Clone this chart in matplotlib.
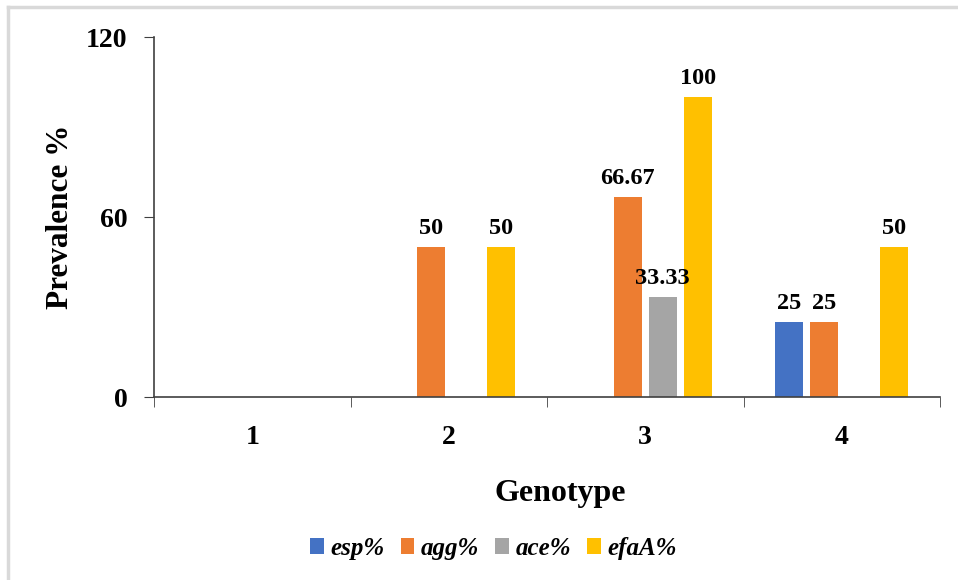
import matplotlib.pyplot as plt
import numpy as np
from matplotlib.lines import Line2D

genotypes = ["1", "2", "3", "4"]
series_names = ["esp%", "agg%", "ace%", "efaA%"]
esp = [0, 0, 0, 25]
agg = [0, 50, 66.67, 25]
ace = [0, 0, 33.33, 0]
efaA = [0, 50, 100, 50]
y_ticks = [0, 60, 120]

colors = ["#4472C4", "#ED7D31", "#A5A5A5", "#FFC000"]
values = [esp, agg, ace, efaA]

plt.rcParams["font.family"] = ["Liberation Serif", "DejaVu Serif"]
fig = plt.figure(figsize=(9.58, 5.8), dpi=100)
ax = fig.add_axes([0.1608, 0.3155, 0.8204, 0.6207])

x = np.arange(len(genotypes))
slot = 0.178
width = 0.1425
for i, (name, vals) in enumerate(zip(series_names, values)):
    pos = x + (i - 1.5) * slot
    ax.bar(pos, vals, width, color=colors[i], label=name, zorder=2)
    for p, v in zip(pos, vals):
        if v > 0:
            ax.annotate(f"{v:g}", (p, v), xytext=(0, 6), textcoords="offset points",
                        ha="center", va="bottom", fontsize=17.5, fontweight="bold")

ax.set_xlim(-0.5, 3.5)
ax.set_ylim(0, 120)
ax.set_yticks(y_ticks)
ax.set_yticklabels([str(t) for t in y_ticks], fontsize=20, fontweight="bold")
ax.set_xticks(x)
ax.set_xticklabels(genotypes, fontsize=20, fontweight="bold")
ax.set_xticks(np.arange(-0.5, 4, 1), minor=True)
ax.tick_params(axis="x", which="major", length=0, pad=20)
ax.tick_params(axis="x", which="minor", length=7, direction="out", color="#404040")
ax.tick_params(axis="y", length=7, direction="out", color="#404040", pad=12)
for s in ["top", "right"]:
    ax.spines[s].set_visible(False)
for s in ["left", "bottom"]:
    ax.spines[s].set_color("#404040")
    ax.spines[s].set_linewidth(1.2)

ax.set_ylabel("Prevalence %", fontsize=22.5, fontweight="bold", labelpad=8)
ax.set_xlabel("Genotype", fontsize=23, fontweight="bold", va="center")
ax.xaxis.set_label_coords(0.5165, -0.267)

fig.legend(loc="center", bbox_to_anchor=(0.515, 0.055), ncol=4, frameon=False,
           prop={"size": 18, "weight": "bold", "style": "italic"},
           handlelength=0.55, handleheight=0.6, handletextpad=0.25, columnspacing=0.65)

# light frame around the chart area (left and top edges visible)
fig.add_artist(Line2D([7.5 / 958, 7.5 / 958], [0, 1 - 7 / 580], transform=fig.transFigure,
                      color="#D9D9D9", lw=2.5))
fig.add_artist(Line2D([7.5 / 958, 1], [1 - 7 / 580, 1 - 7 / 580], transform=fig.transFigure,
                      color="#D9D9D9", lw=2.5))

fig.savefig("out.png", dpi=100)
